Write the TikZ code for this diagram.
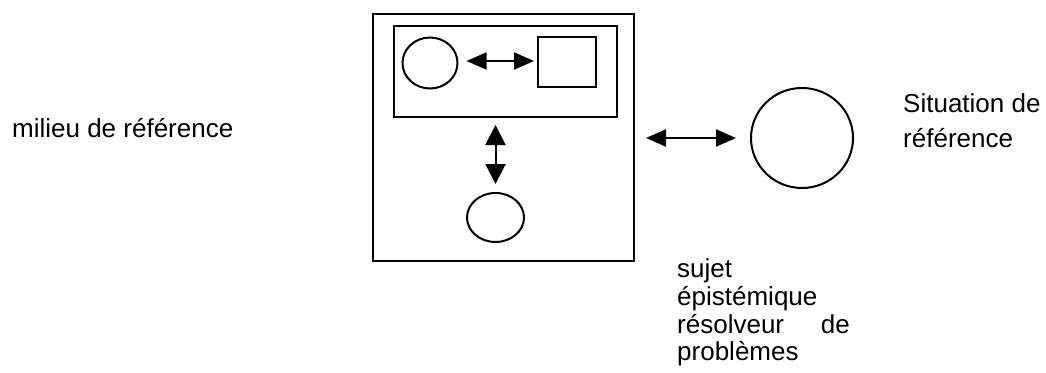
\documentclass[tikz,border=0pt]{standalone}
\usepackage{fontspec}
\setmainfont{Liberation Sans}
\usetikzlibrary{arrows.meta,shapes.geometric}
\begin{document}
\begin{tikzpicture}[x=1pt,y=-1pt,
  box/.style={draw,line width=2pt,rectangle,inner sep=0pt,outer sep=0pt},
  oval/.style={draw,line width=2pt,ellipse,inner sep=0pt,outer sep=0pt},
  harrow/.style={line width=2pt,{Triangle[length=20pt,width=17pt]}-{Triangle[length=20pt,width=17pt]}},
  varrow/.style={line width=2pt,{Triangle[length=20pt,width=20pt]}-{Triangle[length=20pt,width=20pt]}},
  lbl/.style={anchor=base west,inner sep=0pt,font=\fontsize{26}{30}\selectfont}]
\useasboundingbox (0,0) rectangle (1046,372);
\node[box,line width=2.3pt,minimum width=261pt,minimum height=247pt] (outer) at (503.5,137.5) {};
\node[box,minimum width=223pt,minimum height=91pt] (inner) at (505.5,71.5) {};
\node[oval,minimum width=55pt,minimum height=51pt] (lcirc) at (430,63) {};
\node[box,minimum width=58pt,minimum height=50pt] (square) at (567,62) {};
\node[oval,minimum width=57pt,minimum height=49pt] (botell) at (495.5,217.5) {};
\node[oval,minimum width=102pt,minimum height=100pt] (bigcirc) at (802,138) {};
\draw[harrow,shorten <=9pt,shorten >=4pt] ([yshift=2pt]lcirc.east) -- ([yshift=2pt]lcirc.east -| square.west);
\draw[varrow,shorten <=8pt,shorten >=9pt] (botell.north |- inner.south) -- (botell.north);
\draw[harrow,shorten <=12pt,shorten >=15pt] (outer.east |- bigcirc.west) -- (bigcirc.west);
\node[lbl] (milieu) at (12,137) {milieu de référence};
\node[lbl] (sit1) at (903,112) {Situation de};
\node[lbl] (sit2) at (903,147) {référence};
\node[lbl] (suj1) at (677,277) {sujet};
\node[lbl] (suj2) at (677,305) {épistémique};
\node[lbl] (suj3) at (677,333) {résolveur};
\node[lbl,anchor=base east] (suj3b) at (850,333) {de};
\node[lbl] (suj4) at (677,360) {problèmes};
\end{tikzpicture}
\end{document}
